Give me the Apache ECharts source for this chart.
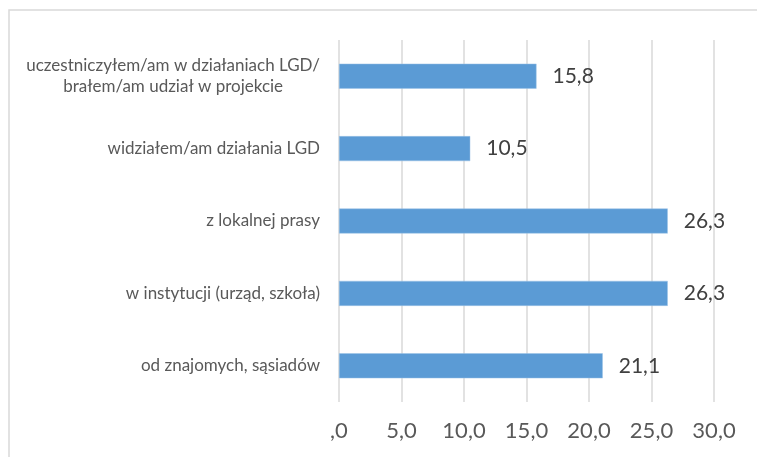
<!DOCTYPE html>
<html>
<head>
<meta charset="utf-8">
<script src="https://cdn.jsdelivr.net/npm/echarts@6/dist/echarts.min.js"></script>
<style>
  html, body { margin: 0; padding: 0; background: #fff; }
  #chart { width: 757px; height: 457px; }
</style>
</head>
<body>
<div id="chart"></div>
<script>
// categories listed top to bottom
const categories = [
  'uczestniczyłem/am w działaniach LGD/\nbrałem/am udział w projekcie',
  'widziałem/am działania LGD',
  'z lokalnej prasy',
  'w instytucji (urząd, szkoła)',
  'od znajomych, sąsiadów'
];
const values = [15.8, 10.5, 26.3, 26.3, 21.1];
const xTickLabels = [',0', '5,0', '10,0', '15,0', '20,0', '25,0', '30,0'];

const chart = echarts.init(document.getElementById('chart'));
chart.setOption({
  animation: false,
  textStyle: { fontFamily: 'Lato' },
  graphic: [{
    type: 'rect',
    shape: { x: 9, y: 10, width: 800, height: 500 },
    style: { fill: 'none', stroke: '#d9d9d9', lineWidth: 1.5 },
    silent: true
  }],
  grid: { left: 339, right: 43, top: 40, bottom: 55 },
  xAxis: {
    type: 'value',
    min: 0,
    max: 30,
    interval: 5,
    axisLine: { show: false },
    axisTick: { show: false },
    splitLine: { lineStyle: { color: '#d9d9d9', width: 1.5 } },
    axisLabel: {
      margin: 18,
      fontSize: 22,
      color: '#595959',
      formatter: (v) => xTickLabels[Math.round(v / 5)]
    }
  },
  yAxis: {
    type: 'category',
    inverse: true,
    data: categories,
    axisLine: { show: false },
    axisTick: { show: false },
    axisLabel: {
      margin: 19,
      fontSize: 17,
      color: '#595959',
      lineHeight: 21,
      formatter: (v) => v.split('\n').map(s => '{c|' + s + '}').join('\n'),
      rich: { c: { align: 'center', fontSize: 17, color: '#595959', lineHeight: 21 } }
    }
  },
  series: [{
    type: 'bar',
    data: values,
    barWidth: 25,
    itemStyle: { color: '#5b9bd5', borderColor: '#9dc3e6', borderWidth: 0.5 },
    label: {
      show: true,
      position: 'right',
      distance: 16,
      fontSize: 21,
      color: '#404040',
      formatter: (p) => p.value.toFixed(1).replace('.', ',')
    }
  }]
});
</script>
</body>
</html>
